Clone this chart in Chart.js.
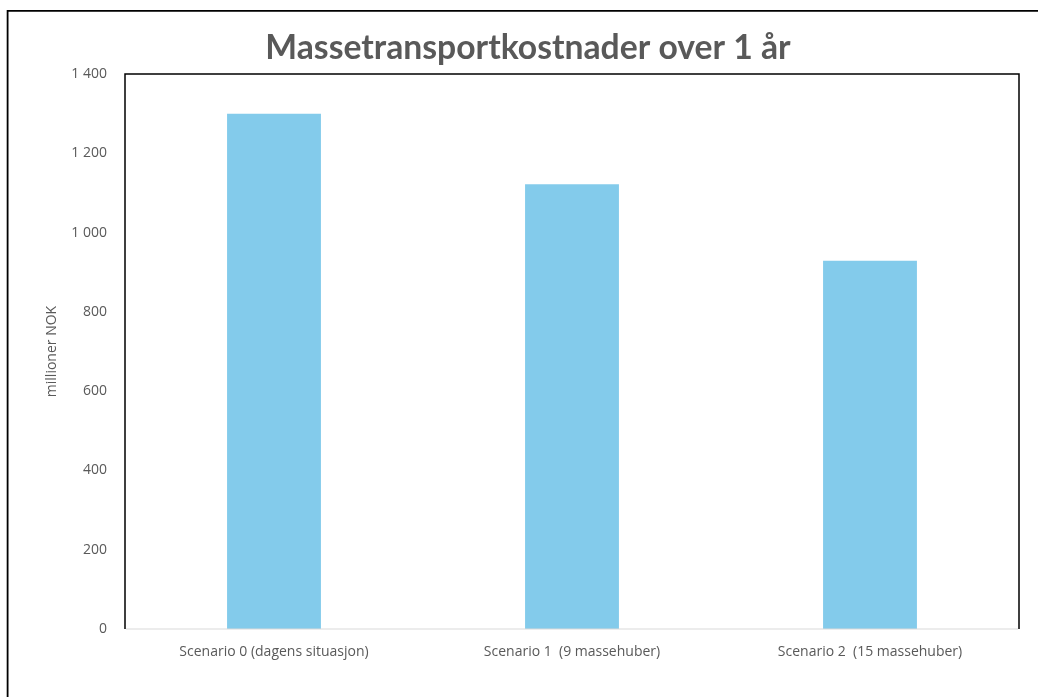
<!DOCTYPE html>
<html>
<head>
<meta charset="utf-8">
<script src="https://cdn.jsdelivr.net/npm/chart.js@4"></script>
<style>
    html, body { margin: 0; padding: 0; background: #fff; }
    #wrap { position: absolute; left: 0; top: 0; width: 1038px; height: 697px; }
</style>
</head>
<body>
<div id="wrap"><canvas id="chartCanvas"></canvas></div>
<script>
const categories = ['Scenario 0 (dagens situasjon)', 'Scenario 1  (9 massehuber)', 'Scenario 2  (15 massehuber)'];
const costs = [1300, 1122, 929];
const yTicks = [0, 200, 400, 600, 800, 1000, 1200, 1400];
const titleText = 'Massetransportkostnader over 1 år';
const yTitle = 'millioner NOK';

const textGray = '#595959';

// frame round the picture and the plot area
const framePlugin = {
    id: 'frame',
    afterDraw(chart) {
        const ctx = chart.ctx;
        const a = chart.chartArea;
        ctx.save();
        ctx.strokeStyle = '#000';
        ctx.lineWidth = 1.8;
        ctx.beginPath();
        ctx.moveTo(7.6, chart.height);
        ctx.lineTo(7.6, 10.8);
        ctx.lineTo(chart.width, 10.8);
        ctx.stroke();

        ctx.lineWidth = 1.5;
        ctx.beginPath();
        ctx.moveTo(a.left, a.bottom);
        ctx.lineTo(a.left, a.top);
        ctx.lineTo(a.right, a.top);
        ctx.lineTo(a.right, a.bottom);
        ctx.stroke();

        ctx.strokeStyle = '#d9d9d9';
        ctx.lineWidth = 1.2;
        ctx.beginPath();
        ctx.moveTo(a.left + 1, a.bottom);
        ctx.lineTo(a.right - 1, a.bottom);
        ctx.stroke();
        ctx.restore();
    }
};

function formatTick(v) {
    const s = String(v);
    return s.length > 3 ? s.slice(0, s.length - 3) + ' ' + s.slice(-3) : s;
}

new Chart(document.getElementById('chartCanvas').getContext('2d'), {
    type: 'bar',
    data: {
        labels: categories,
        datasets: [{
            data: costs,
            backgroundColor: '#83cbeb',
            borderWidth: 0,
            categoryPercentage: 1,
            barPercentage: 0.315
        }]
    },
    options: {
        responsive: true,
        maintainAspectRatio: false,
        animation: false,
        layout: { padding: { left: 37, right: 19, top: 0, bottom: 0 } },
        plugins: {
            legend: { display: false },
            tooltip: { enabled: false },
            title: {
                display: true,
                text: titleText,
                color: textGray,
                font: { family: 'Lato', size: 33.7, weight: 'bold', lineHeight: 1 },
                padding: { top: 31, bottom: 9.3 }
            }
        },
        scales: {
            x: {
                grid: { display: false, drawTicks: false },
                border: { display: false },
                ticks: {
                    color: textGray,
                    font: { family: 'Open Sans', size: 14 },
                    padding: 14.5,
                    maxRotation: 0
                },
                afterFit(scale) { scale.height = 68; }
            },
            y: {
                min: 0,
                max: 1400,
                afterBuildTicks(scale) { scale.ticks = yTicks.map(v => ({ value: v })); },
                grid: { display: false, drawTicks: false },
                border: { display: false },
                ticks: {
                    color: textGray,
                    font: { family: 'Open Sans', size: 14 },
                    padding: 18,
                    callback: v => formatTick(v)
                },
                title: {
                    display: true,
                    text: yTitle,
                    color: textGray,
                    font: { family: 'Open Sans', size: 14 },
                    padding: { top: 7, bottom: 0 }
                },
                afterFit(scale) { scale.width = 88; }
            }
        }
    },
    plugins: [framePlugin]
});
</script>
</body>
</html>
